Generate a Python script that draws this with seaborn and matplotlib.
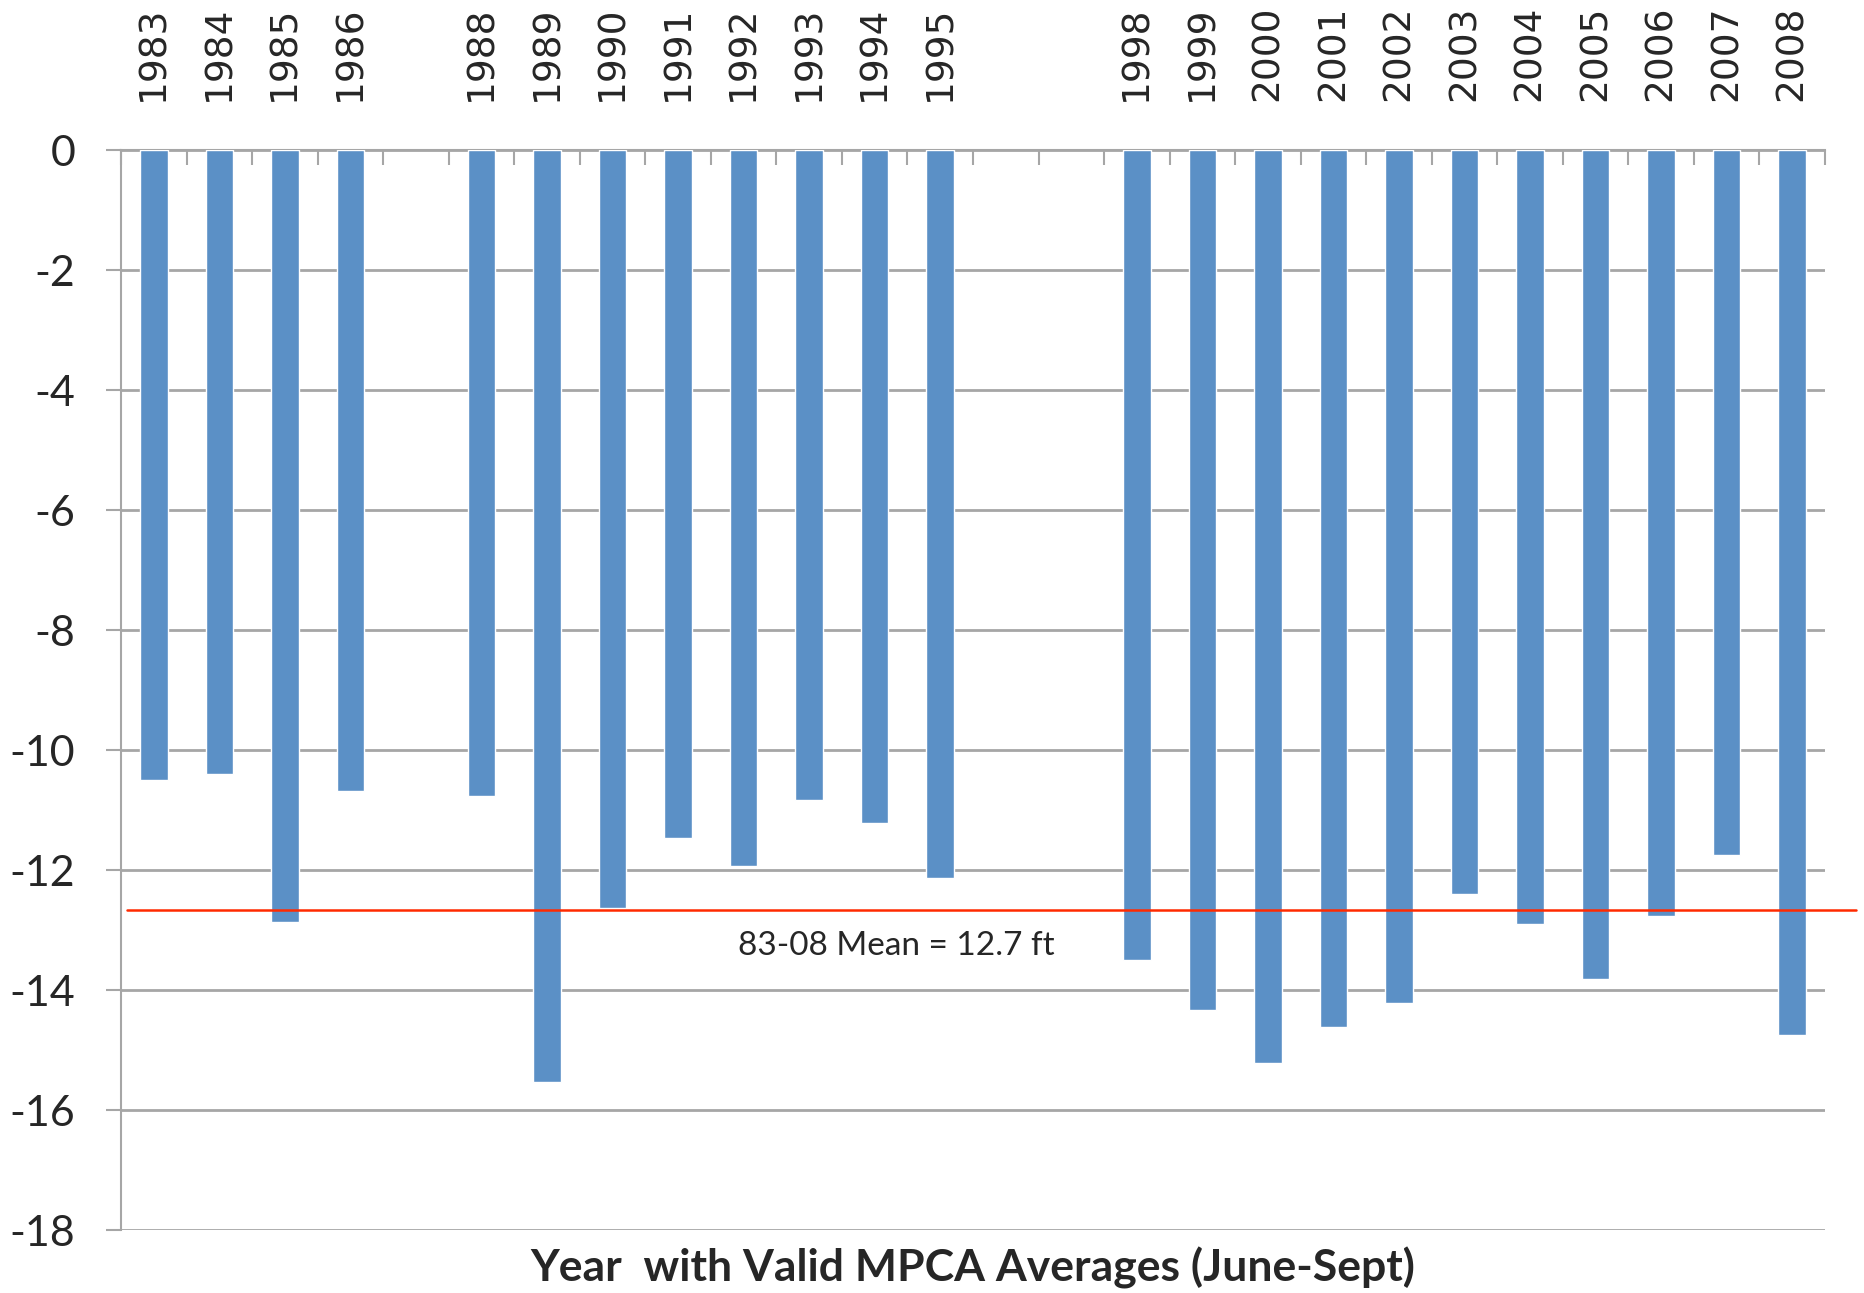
import numpy as np
import pandas as pd
import matplotlib
matplotlib.use("Agg")
import matplotlib.pyplot as plt
from matplotlib.ticker import MultipleLocator
import seaborn as sns

# category axis: every year 1983-2008, only some have valid averages
ALL_YEARS = [str(y) for y in range(1983, 2009)]
YEARS = ["1983", "1984", "1985", "1986", "1988", "1989", "1990", "1991",
         "1992", "1993", "1994", "1995", "1998", "1999", "2000", "2001",
         "2002", "2003", "2004", "2005", "2006", "2007", "2008"]
DEPTH = [-10.50, -10.40, -12.87, -10.68, -10.76, -15.54, -12.64, -11.47,
         -11.94, -10.83, -11.21, -12.13, -13.50, -14.33, -15.21, -14.61,
         -14.21, -12.40, -12.90, -13.81, -12.76, -11.75, -14.75]
MEAN_DEPTH = -12.67
MEAN_LABEL = "83-08 Mean = 12.7 ft"
XLABEL = "Year  with Valid MPCA Averages (June-Sept)"

BAR_COLOR = "#5B90C6"
GRID_GRAY = "#A6A6A6"

sns.set_style("white")
plt.rcParams["font.family"] = ["Lato", "DejaVu Sans"]

W, H = 1864, 1293
fig = plt.figure(figsize=(W / 100, H / 100), dpi=100)
left, right, top, bottom = 121, 1825, 150, 1230
ax = fig.add_axes([left / W, 1 - bottom / H, (right - left) / W, (bottom - top) / H])

df = pd.DataFrame({"year": YEARS, "depth": DEPTH})
sns.barplot(data=df, x="year", y="depth", order=ALL_YEARS, color=BAR_COLOR,
            saturation=1, width=0.42, errorbar=None, ax=ax, zorder=3)

ax.set_ylim(-18, 0)
ax.set_xlim(-0.5, len(ALL_YEARS) - 0.5)
ax.yaxis.set_major_locator(MultipleLocator(2))
ax.set_yticklabels([f"{int(v)}" for v in ax.get_yticks()])
ax.yaxis.grid(True, color=GRID_GRAY, linewidth=2, zorder=0)
ax.set_axisbelow(True)

# year labels on top, blank for missing years
ax.xaxis.tick_top()
ax.set_xticks(range(len(ALL_YEARS)))
ax.set_xticklabels([y if y in YEARS else "" for y in ALL_YEARS],
                   rotation=90, family="DejaVu Sans", fontsize=27)
ax.set_xticks(np.arange(-0.5, len(ALL_YEARS)), minor=True)
ax.tick_params(axis="x", which="major", length=0, pad=35)
ax.tick_params(axis="x", which="minor", top=True, bottom=False, direction="in",
               length=10.8, width=1.5, color=GRID_GRAY)
ax.tick_params(axis="y", which="major", left=True, direction="out", length=10.8,
               width=1.5, color=GRID_GRAY, pad=22, labelsize=31)
ax.set_xlabel("")
ax.set_ylabel("")

for side in ["right", "bottom"]:
    ax.spines[side].set_visible(False)
for side in ["left", "top"]:
    ax.spines[side].set_color(GRID_GRAY)
    ax.spines[side].set_linewidth(1.5)

# mean line runs slightly past the plot area
ax.axhline(MEAN_DEPTH, xmin=0.0035, xmax=1.018, color="#FF2A00", linewidth=1.8,
           clip_on=False, zorder=4)
ax.text(11.33, -13.27, MEAN_LABEL, ha="center", va="center", fontsize=24, zorder=5)

fig.text(973 / W, 1 - 1268 / H, XLABEL, ha="center", va="center",
         fontsize=32, fontweight="bold")

fig.savefig("out.png", dpi=100)
